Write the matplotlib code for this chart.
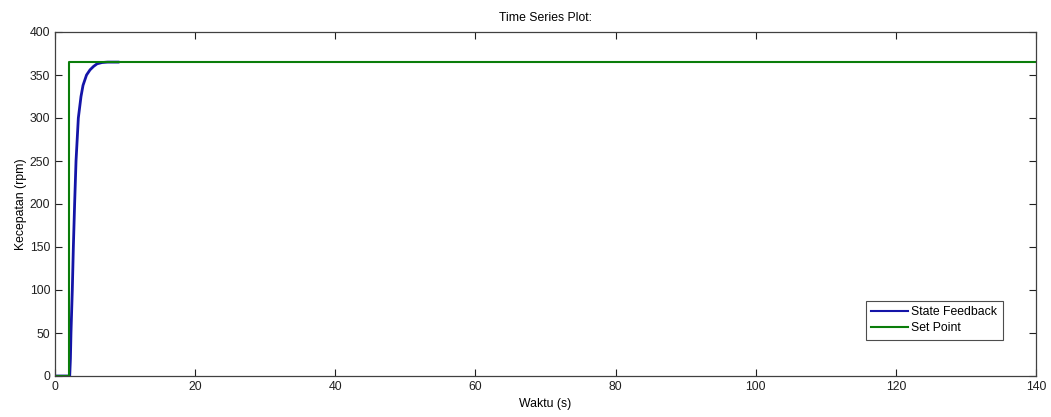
import matplotlib
matplotlib.use("Agg")
import matplotlib.pyplot as plt
from matplotlib.lines import Line2D

# Data
sf_time = [0, 2.1, 2.2, 2.28, 2.47, 2.62, 2.8, 3.0, 3.33, 3.71, 4.0, 4.5, 5.0, 5.5, 6.0, 6.7, 7.5, 9.0]
sf_speed = [0, 0, 20, 50, 100, 150, 200, 250, 300, 325, 338, 350, 356, 360, 363, 364.5, 365, 365]
sp_time = [0, 2.0, 2.0, 140]
sp_speed = [0, 0, 365, 365]

xticks = [0, 20, 40, 60, 80, 100, 120, 140]
yticks = [0, 50, 100, 150, 200, 250, 300, 350, 400]

plt.rcParams['font.family'] = ['Liberation Sans', 'DejaVu Sans']
fig = plt.figure(figsize=(10.51, 4.17), dpi=100)
ax = fig.add_axes([55/1051, 1-376/417, (1036-55)/1051, (376-32)/417])

ax.plot(sf_time, sf_speed, color='#1414a8', lw=2.0, label='State Feedback')
ax.plot(sp_time, sp_speed, color='#0a7d0a', lw=1.5, label='Set Point')

ax.set_xlim(0, 140)
ax.set_ylim(0, 400)
ax.set_xticks(xticks)
ax.set_yticks(yticks)
ax.tick_params(direction='in', top=True, right=True, labelsize=8.8, length=5, colors='#202020')
for s in ax.spines.values():
    s.set_color('#404040')
    s.set_linewidth(0.9)

ax.set_title('Time Series Plot:', fontsize=8.8, pad=8)
ax.set_xlabel('Waktu (s)', fontsize=8.8, labelpad=4)
ax.set_ylabel('Kecepatan (rpm)', fontsize=8.8, labelpad=2)

handles = [Line2D([], [], color='#1414a8', lw=1.5), Line2D([], [], color='#0a7d0a', lw=1.5)]
leg = ax.legend(handles, ['State Feedback', 'Set Point'],
                loc='lower right', bbox_to_anchor=(0.966, 0.105), borderaxespad=0,
                fontsize=8.8, frameon=True, fancybox=False, edgecolor='#202020',
                handlelength=3.0, handletextpad=0.25, borderpad=0.45, labelspacing=0.35)
leg.get_frame().set_linewidth(0.8)

fig.savefig('out.png', dpi=100)
